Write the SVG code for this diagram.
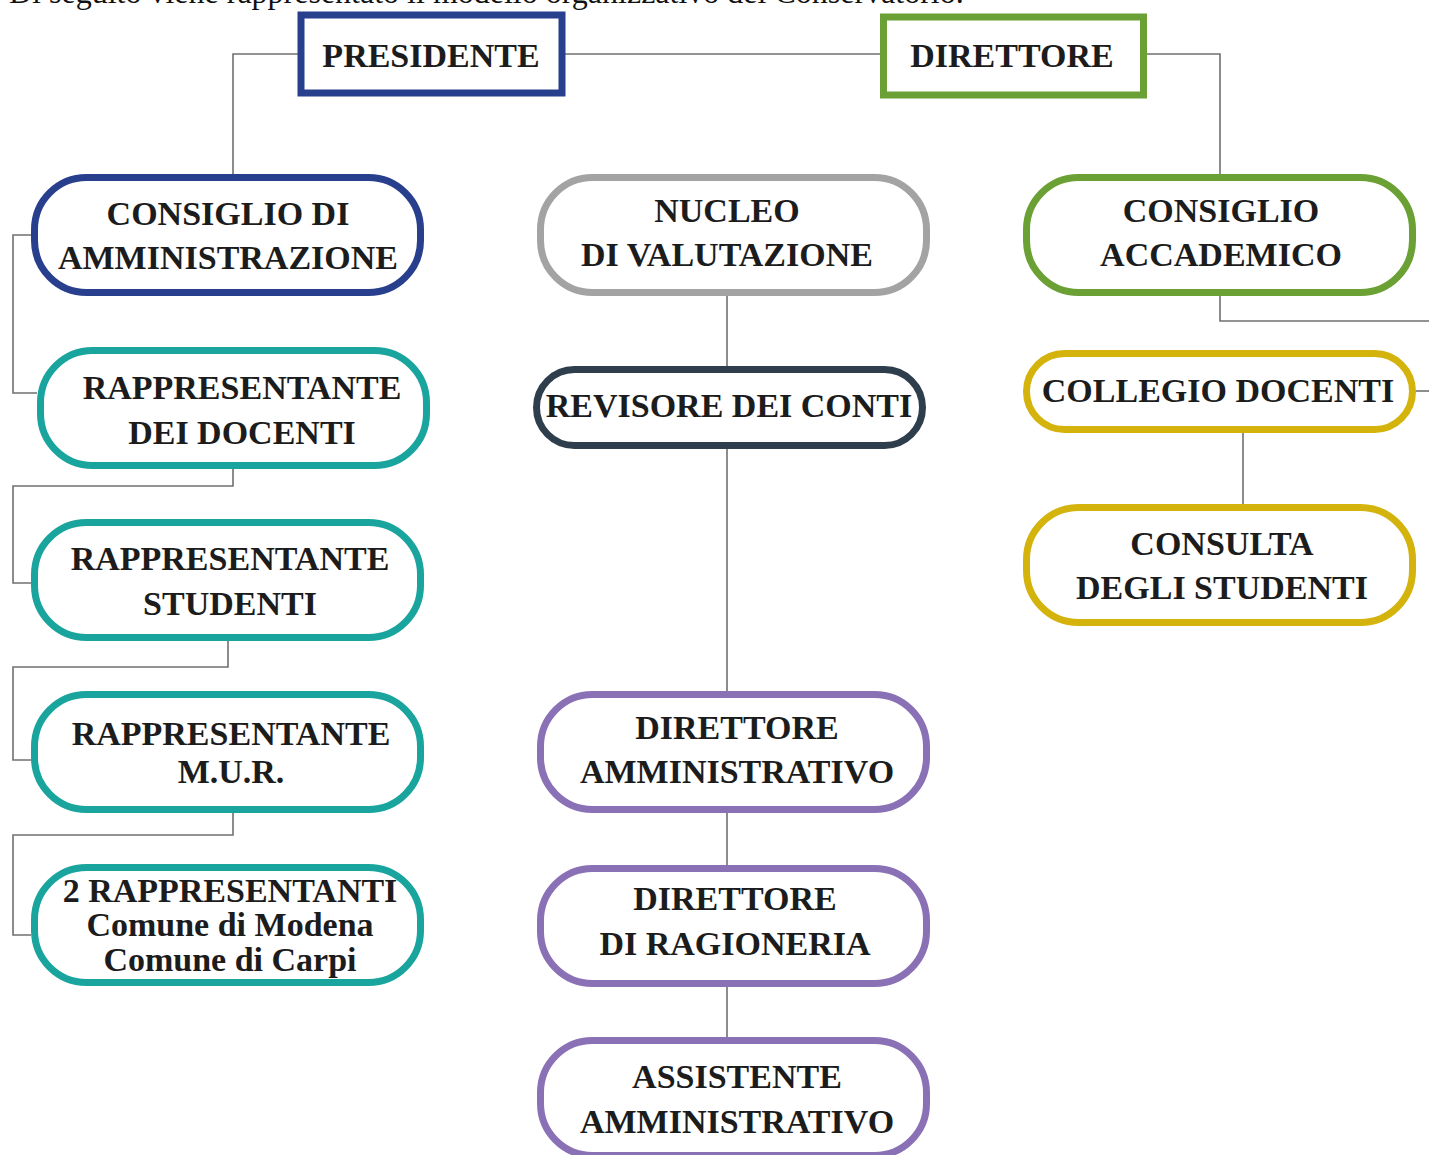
<svg xmlns="http://www.w3.org/2000/svg" width="1429" height="1155" viewBox="0 0 1429 1155">
<style>
text{font-family:"Liberation Serif","Times New Roman",serif;font-weight:bold;font-size:34px;fill:#1c1c1c;text-anchor:middle}
.intro{font-weight:normal;font-size:32px;text-anchor:start;fill:#111}
.box{fill:#fff;stroke-width:7}
.blue{stroke:#283f8d}
.green{stroke:#6aa034}
.teal{stroke:#19a59e}
.gray{stroke:#a3a3a3}
.slate{stroke:#2f3e4c}
.purple{stroke:#8a71b6}
.yellow{stroke:#d3b30c}
.conn{fill:none;stroke:#707070;stroke-width:1.6}
</style>
<rect width="1429" height="1155" fill="#fff"/>
<text class="intro" x="9" y="3">Di seguito viene rappresentato il modello organizzativo del Conservatorio.</text>
<g id="connectors">
<path class="conn" d="M298,54 H233 V175"/>
<path class="conn" d="M565,54 H881"/>
<path class="conn" d="M1147,54 H1220 V174"/>
<path class="conn" d="M31,235 H13 V393 H37"/>
<path class="conn" d="M233,468 V486 H13 V583 H31"/>
<path class="conn" d="M228,640 V667 H13 V760 H31"/>
<path class="conn" d="M233,812 V835 H13 V935 H31"/>
<path class="conn" d="M727,295 V366"/>
<path class="conn" d="M727,448 V691"/>
<path class="conn" d="M727,812 V865"/>
<path class="conn" d="M727,986 V1037"/>
<path class="conn" d="M1220,295 V321 H1429"/>
<path class="conn" d="M1416,391 H1429"/>
<path class="conn" d="M1243,432 V504"/>
</g>
<g id="presidente">
<rect class="box blue" x="301" y="15" width="261" height="78"/>
<text x="431" y="67">PRESIDENTE</text>
</g>
<g id="direttore">
<rect class="box green" x="883.5" y="17" width="260" height="78"/>
<text x="1012" y="67">DIRETTORE</text>
</g>
<g id="consiglio-amministrazione">
<rect class="box blue" x="34.5" y="177.5" width="386" height="115" rx="52"/>
<text x="228" y="225">CONSIGLIO DI</text>
<text x="228" y="269">AMMINISTRAZIONE</text>
</g>
<g id="rappresentante-docenti">
<rect class="box teal" x="40.5" y="350.5" width="386" height="115" rx="52"/>
<text x="242" y="399">RAPPRESENTANTE</text>
<text x="242" y="444">DEI DOCENTI</text>
</g>
<g id="rappresentante-studenti">
<rect class="box teal" x="34.5" y="522.5" width="386" height="115" rx="52"/>
<text x="230" y="570">RAPPRESENTANTE</text>
<text x="230" y="615">STUDENTI</text>
</g>
<g id="rappresentante-mur">
<rect class="box teal" x="34.5" y="694.5" width="386" height="115" rx="52"/>
<text x="231" y="745">RAPPRESENTANTE</text>
<text x="231" y="783">M.U.R.</text>
</g>
<g id="rappresentanti-comuni">
<rect class="box teal" x="34.5" y="867.5" width="386" height="115" rx="52"/>
<text x="230" y="902">2 RAPPRESENTANTI</text>
<text x="230" y="936">Comune di Modena</text>
<text x="230" y="971">Comune di Carpi</text>
</g>
<g id="nucleo-valutazione">
<rect class="box gray" x="540.5" y="177.5" width="386" height="115" rx="52"/>
<text x="727" y="222">NUCLEO</text>
<text x="727" y="266">DI VALUTAZIONE</text>
</g>
<g id="revisore-conti">
<rect class="box slate" x="536.5" y="369.5" width="386" height="76" rx="38"/>
<text x="729" y="417">REVISORE DEI CONTI</text>
</g>
<g id="direttore-amministrativo">
<rect class="box purple" x="540.5" y="694.5" width="386" height="115" rx="52"/>
<text x="737" y="739">DIRETTORE</text>
<text x="737" y="783">AMMINISTRATIVO</text>
</g>
<g id="direttore-ragioneria">
<rect class="box purple" x="540.5" y="868.5" width="386" height="115" rx="52"/>
<text x="735" y="910">DIRETTORE</text>
<text x="735" y="955">DI RAGIONERIA</text>
</g>
<g id="assistente-amministrativo">
<rect class="box purple" x="540.5" y="1040.5" width="386" height="115" rx="52"/>
<text x="737" y="1088">ASSISTENTE</text>
<text x="737" y="1133">AMMINISTRATIVO</text>
</g>
<g id="consiglio-accademico">
<rect class="box green" x="1026.5" y="177.5" width="386" height="115" rx="52"/>
<text x="1221" y="222">CONSIGLIO</text>
<text x="1221" y="266">ACCADEMICO</text>
</g>
<g id="collegio-docenti">
<rect class="box yellow" x="1026.5" y="353.5" width="386" height="76" rx="38"/>
<text x="1218" y="402">COLLEGIO DOCENTI</text>
</g>
<g id="consulta-studenti">
<rect class="box yellow" x="1026.5" y="507.5" width="386" height="115" rx="52"/>
<text x="1222" y="555">CONSULTA</text>
<text x="1222" y="599">DEGLI STUDENTI</text>
</g>
</svg>
